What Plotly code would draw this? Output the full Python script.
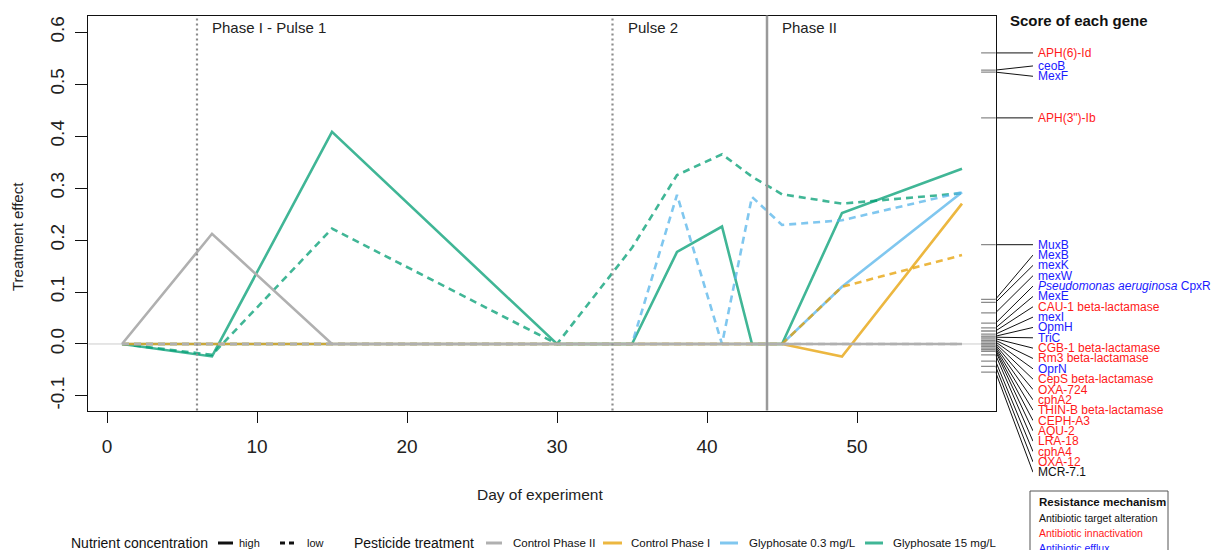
import plotly.graph_objects as go

W, H = 1219, 550

# ---------------- data ----------------
days = [1, 7, 15, 30, 35, 38, 41, 43, 45, 49, 57]

ctrl2_high = [0, 0.212, 0, 0, 0, 0, 0, 0, 0, 0, 0]
ctrl2_low = [0, 0, 0, 0, 0, 0, 0, 0, 0, 0, 0]
ctrl1_high = [0, 0, 0, 0, 0, 0, 0, 0, 0, -0.024, 0.270]
ctrl1_low = [0, 0, 0, 0, 0, 0, 0, 0, 0, 0.110, 0.171]
gly03_high = [0, 0, 0, 0, 0, 0, 0, 0, 0, 0.110, 0.292]
gly03_low = [0, 0, 0, 0, 0, 0.287, 0, 0.283, 0.229, 0.238, 0.292]
gly15_high = [0, -0.024, 0.408, 0, 0, 0.177, 0.226, 0, 0, 0.252, 0.337]
gly15_low = [0, -0.021, 0.222, 0, 0.185, 0.325, 0.365, 0.322, 0.288, 0.270, 0.290]

phase_days = [6, 33.7]
phase2_day = 44
phase_labels = ["Phase I - Pulse 1", "Pulse 2", "Phase II"]

gene_names = ["APH(6)-Id", "ceoB", "MexF", "APH(3\")-Ib", "MuxB", "MexB", "mexK", "mexW",
              "<i>Pseudomonas aeruginosa</i> CpxR", "MexE", "CAU-1 beta-lactamase", "mexI",
              "OpmH", "TriC", "CGB-1 beta-lactamase", "Rm3 beta-lactamase", "OprN",
              "CepS beta-lactamase", "OXA-724", "cphA2", "THIN-B beta-lactamase", "CEPH-A3",
              "AQU-2", "LRA-18", "cphA4", "OXA-12", "MCR-7.1"]
gene_scores = [0.560, 0.527, 0.523, 0.435, 0.191, 0.086, 0.080, 0.060, 0.040, 0.031, 0.025,
               0.019, 0.015, 0.013, 0.010, 0.007, 0.004, 0.001, -0.002, -0.005, -0.008,
               -0.011, -0.014, -0.021, -0.033, -0.043, -0.054]
gene_mech = ["inact", "efflux", "efflux", "inact", "efflux", "efflux", "efflux", "efflux",
             "efflux", "efflux", "inact", "efflux", "efflux", "efflux", "inact", "inact",
             "efflux", "inact", "inact", "inact", "inact", "inact", "inact", "inact",
             "inact", "inact", "target"]

x_ticks = [0, 10, 20, 30, 40, 50]
y_ticks = [-0.1, 0.0, 0.1, 0.2, 0.3, 0.4, 0.5, 0.6]
y_ticktext = ["-0.1", "0.0", "0.1", "0.2", "0.3", "0.4", "0.5", "0.6"]

# ---------------- styles ----------------
FONT = "Liberation Sans, Arial, Helvetica, sans-serif"
col = {"ctrl2": "#b0b0b0", "ctrl1": "rgba(230,159,0,0.75)",
       "gly03": "rgba(86,180,233,0.75)", "gly15": "rgba(0,158,115,0.75)"}
mech_col = {"inact": "#FF1A1A", "efflux": "#1A1AFF", "target": "#111111"}
DASH = "7px,5px"
LW = 2.6

def fx(p):
    return p / W

def fy(p):
    return 1 - p / H

# main plot box in pixels
L, R, T, B = 88.4, 995.6, 15.5, 410.5
xr = [-1.24, 59.24]
yr = [-0.128, 0.632]
upp = (yr[1] - yr[0]) / (B - T)  # y units per pixel
y3r = [yr[0] - (H - B) * upp, yr[1] + T * upp]

fig = go.Figure()

series = [
    (gly15_high, "gly15", "solid"), (gly15_low, "gly15", DASH),
    (gly03_high, "gly03", "solid"), (gly03_low, "gly03", DASH),
    (ctrl1_high, "ctrl1", "solid"), (ctrl1_low, "ctrl1", DASH),
    (ctrl2_low, "ctrl2", DASH), (ctrl2_high, "ctrl2", "solid"),
]
for vals, key, dash in series:
    fig.add_trace(go.Scatter(x=days, y=vals, mode="lines",
                             line=dict(color=col[key], width=LW, dash=dash),
                             showlegend=False, hoverinfo="skip"))

# ---------------- gene label layout ----------------
gap = 0.0199
order = sorted(range(len(gene_scores)), key=lambda i: -gene_scores[i])
pos = {}
prev = None
dense = 0.15
for i in order:
    s = gene_scores[i]
    if prev is None or s >= dense:
        p = s
    else:
        p = prev - gap
    pos[i] = p
    prev = p
top = [i for i in order if gene_scores[i] >= dense]
for _ in range(50):
    for a, b in zip(top[:-1], top[1:]):
        if pos[a] - pos[b] < gap:
            mid = (pos[a] + pos[b]) / 2
            pos[a], pos[b] = mid + gap / 2, mid - gap / 2

cx, cy = [], []
for i in range(len(gene_scores)):
    cx += [0, 1, None]
    cy += [gene_scores[i], pos[i], None]
fig.add_trace(go.Scatter(x=cx, y=cy, mode="lines", xaxis="x2", yaxis="y3",
                         line=dict(color="#111111", width=1), showlegend=False,
                         hoverinfo="skip"))

shapes = []
annotations = []

# rug ticks for gene scores inside plot
for s in gene_scores:
    shapes.append(dict(type="line", xref="x domain", yref="y", x0=1 - 14.5 / (R - L), x1=1,
                       y0=s, y1=s, line=dict(color="#8a8a8a", width=1.3)))

# zero line
shapes.append(dict(type="line", xref="x domain", yref="y", x0=0, x1=1, y0=0, y1=0,
                   line=dict(color="#cccccc", width=1), layer="below"))
# phase lines
for d in phase_days:
    shapes.append(dict(type="line", xref="x", yref="y domain", x0=d, x1=d, y0=0, y1=1,
                       line=dict(color="#8c8c8c", width=2.2, dash="2px,3px")))
shapes.append(dict(type="line", xref="x", yref="y domain", x0=phase2_day, x1=phase2_day,
                   y0=0, y1=1, line=dict(color="#9a9a9a", width=2.5)))

for d, t in zip(phase_days + [phase2_day], phase_labels):
    annotations.append(dict(x=d, y=fy(28), xref="x", yref="paper", text=t, showarrow=False,
                            xanchor="left", yanchor="middle", xshift=13,
                            font=dict(family=FONT, size=15, color="#222")))

for i, name in enumerate(gene_names):
    annotations.append(dict(x=fx(1036), y=pos[i], xref="paper", yref="y3", text=name,
                            showarrow=False, xanchor="left", yanchor="middle",
                            font=dict(family=FONT, size=12, color=mech_col[gene_mech[i]])))

annotations.append(dict(x=fx(1079), y=fy(20), xref="paper", yref="paper",
                        text="<b>Score of each gene</b>", showarrow=False,
                        xanchor="center", yanchor="middle",
                        font=dict(family=FONT, size=15, color="#111")))

# axis titles
annotations.append(dict(x=fx(17), y=fy(237), xref="paper", yref="paper", text="Treatment effect",
                        textangle=-90, showarrow=False, xanchor="center", yanchor="middle",
                        font=dict(family=FONT, size=15, color="#222")))
annotations.append(dict(x=fx(540), y=fy(494), xref="paper", yref="paper", text="Day of experiment",
                        showarrow=False, xanchor="center", yanchor="middle",
                        font=dict(family=FONT, size=15.5, color="#222")))

# bottom legend
LY = 543
def leg_text(x, t, size):
    annotations.append(dict(x=fx(x), y=fy(LY), xref="paper", yref="paper", text=t,
                            showarrow=False, xanchor="left", yanchor="middle",
                            font=dict(family=FONT, size=size, color="#111")))

def leg_line(x0, x1, color, dash="solid", width=3):
    shapes.append(dict(type="line", xref="paper", yref="paper", x0=fx(x0), x1=fx(x1),
                       y0=fy(LY), y1=fy(LY), line=dict(color=color, width=width, dash=dash)))

leg_text(69, "Nutrient concentration", 14)
leg_line(218, 233, "#111")
leg_text(237, "high", 11)
leg_line(280, 297, "#111", "5px,4px")
leg_text(305, "low", 11)
leg_text(352, "Pesticide treatment", 14)
leg_line(486, 502, col["ctrl2"])
leg_text(511, "Control Phase II", 11.5)
leg_line(603, 622, col["ctrl1"])
leg_text(629, "Control Phase I", 11.5)
leg_line(720, 738, col["gly03"])
leg_text(747, "Glyphosate 0.3 mg/L", 11.5)
leg_line(865, 883, col["gly15"])
leg_text(891, "Glyphosate 15 mg/L", 11.5)

# resistance mechanism box
shapes.append(dict(type="rect", xref="paper", yref="paper", x0=fx(1030), x1=fx(1168),
                   y0=fy(491), y1=fy(565), line=dict(color="#555", width=1)))
annotations.append(dict(x=fx(1037), y=fy(502), xref="paper", yref="paper",
                        text="<b>Resistance mechanism</b>", showarrow=False, xanchor="left",
                        yanchor="middle", font=dict(family=FONT, size=11.5, color="#111")))
for yy, t, k in [(518, "Antibiotic target alteration", "target"),
                 (533, "Antibiotic innactivation", "inact"),
                 (548, "Antibiotic efflux", "efflux")]:
    annotations.append(dict(x=fx(1037), y=fy(yy), xref="paper", yref="paper", text=t,
                            showarrow=False, xanchor="left", yanchor="middle",
                            font=dict(family=FONT, size=10.5, color=mech_col[k])))

fig.update_layout(
    width=W, height=H, margin=dict(l=0, r=0, t=0, b=0),
    paper_bgcolor="white", plot_bgcolor="white",
    xaxis=dict(domain=[fx(L), fx(R)], range=xr, tickvals=x_ticks, ticks="outside",
               ticklen=11, tickwidth=1, tickcolor="#111", showline=True, mirror=True,
               linecolor="#111", linewidth=1, showgrid=False, zeroline=False,
               tickfont=dict(family=FONT, size=19, color="#222"), ticklabelstandoff=8),
    yaxis=dict(domain=[fy(B), fy(T)], range=yr, tickvals=y_ticks, ticktext=y_ticktext,
               ticks="outside", ticklen=12, tickwidth=1, tickcolor="#111", showline=True,
               mirror=True, linecolor="#111", linewidth=1, showgrid=False, zeroline=False,
               tickangle=-90, tickfont=dict(family=FONT, size=19, color="#222"),
               ticklabelstandoff=4),
    xaxis2=dict(domain=[fx(R), fx(1033)], range=[0, 1], visible=False, anchor="y3",
                fixedrange=True),
    yaxis3=dict(domain=[0, 1], range=y3r, visible=False, anchor="x2", fixedrange=True),
    shapes=shapes, annotations=annotations,
)

fig.write_html("out.html")
